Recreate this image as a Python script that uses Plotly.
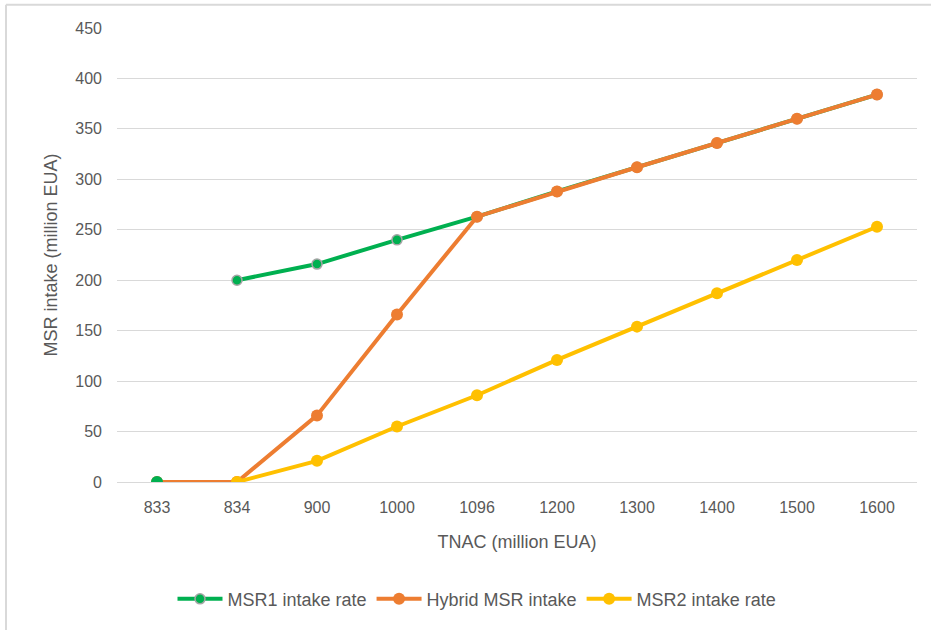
import plotly.graph_objs as go

# --- data ---
tnac = ['833', '834', '900', '1000', '1096', '1200', '1300', '1400', '1500', '1600']
msr1 = [None, 200, 216, 240, 263, 288, 312, 336, 360, 384]
msr1_start = [0]  # lone MSR1 point at 833
hybrid = [0, 0, 66, 166, 263, 288, 312, 336, 360, 384]
msr2 = [None, 0, 21, 55, 86, 121, 154, 187, 220, 253]
y_ticks = [0, 50, 100, 150, 200, 250, 300, 350, 400, 450]

GREEN = '#00b050'
ORANGE = '#ed7d31'
YELLOW = '#ffc000'
GREY_TXT = '#595959'
GRID = '#d9d9d9'
FONT = 'Liberation Sans, Arial, sans-serif'

fig = go.Figure()
fig.add_trace(go.Scatter(
    x=tnac, y=msr1, name='MSR1 intake rate', mode='lines+markers',
    line=dict(color=GREEN, width=4),
    marker=dict(color=GREEN, size=10, line=dict(color='#a5a5a5', width=1.5)),
))
fig.add_trace(go.Scatter(
    x=tnac, y=hybrid, name='Hybrid MSR intake', mode='lines+markers',
    line=dict(color=ORANGE, width=4),
    marker=dict(color=ORANGE, size=12),
))
fig.add_trace(go.Scatter(
    x=tnac, y=msr2, name='MSR2 intake rate', mode='lines+markers',
    line=dict(color=YELLOW, width=4),
    marker=dict(color=YELLOW, size=12),
))
fig.add_trace(go.Scatter(
    x=tnac[:1], y=msr1_start, mode='markers', showlegend=False,
    marker=dict(color=GREEN, size=12),
))

# light grey frame (left and top edges only visible)
x_left = (6 - 117) / 800
y_top = 1 + (28 - 4.5) / 459
for x0, y0, x1, y1 in [(x_left, -0.4, x_left, y_top), (x_left, y_top, 1.1, y_top)]:
    fig.add_shape(type='line', xref='paper', yref='paper', x0=x0, y0=y0, x1=x1, y1=y1,
                  line=dict(color=GRID, width=2))

fig.update_layout(
    width=931, height=630,
    margin=dict(l=117, r=14, t=28, b=143),
    plot_bgcolor='white', paper_bgcolor='white',
    font=dict(family=FONT, color=GREY_TXT, size=16),
    showlegend=True,
    legend=dict(orientation='h', x=0.45, xanchor='center', y=-0.258, yanchor='middle',
                font=dict(size=18, color=GREY_TXT), itemwidth=45, traceorder='normal'),
    xaxis=dict(
        type='category', range=[-0.5, 9.5], showgrid=False, zeroline=False,
        showline=False, ticks='', ticklabelstandoff=14, automargin=False,
        title=dict(text='TNAC (million EUA)', font=dict(size=18), standoff=20),
    ),
    yaxis=dict(
        range=[0, 450], tickvals=y_ticks, showgrid=True, gridcolor=GRID, gridwidth=1,
        zeroline=True, zerolinecolor=GRID, zerolinewidth=1, showline=False, ticks='',
        ticklabelstandoff=14, automargin=False,
        title=dict(text='MSR intake (million EUA)', font=dict(size=18), standoff=12),
    ),
)

# drop the default page margin so the figure sits at the window's top-left corner
fig.write_html('out.html', config={'displayModeBar': False},
               post_script="document.body.style.margin='0';")
